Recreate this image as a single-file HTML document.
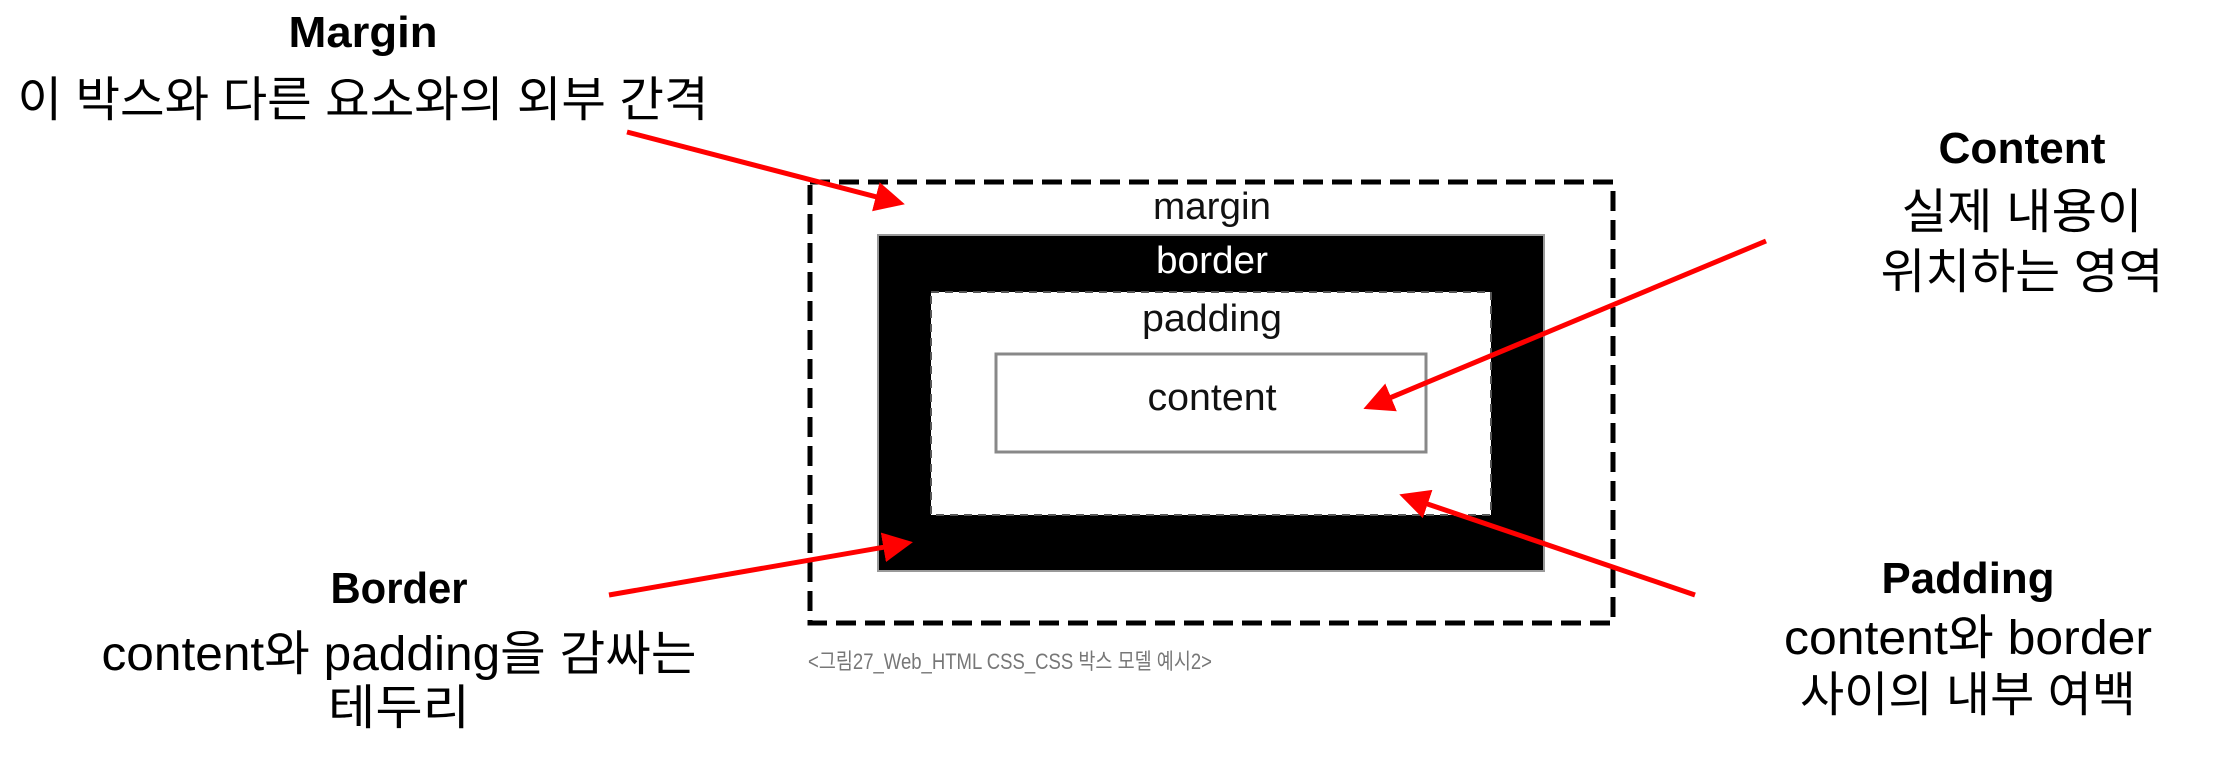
<!DOCTYPE html>
<html><head><meta charset="utf-8"><style>
html,body{margin:0;padding:0;background:#fff;}
body{width:2220px;height:762px;overflow:hidden;}
svg{display:block}
</style></head><body>
<svg width="2220" height="762" viewBox="0 0 2220 762" xmlns="http://www.w3.org/2000/svg">
<defs>
<marker id="ah" markerWidth="6" markerHeight="6" refX="5" refY="3" orient="auto" markerUnits="strokeWidth">
<path d="M0,0 L6,3 L0,6 z" fill="#f00"/>
</marker>
</defs>
<rect x="810" y="182" width="803" height="441" fill="none" stroke="#000" stroke-width="5" stroke-dasharray="20,9"/>
<rect x="878" y="235" width="666" height="336" fill="#000" stroke="#999" stroke-width="2"/>
<rect x="931" y="292" width="560" height="223" fill="#fff" stroke="#555" stroke-width="2" stroke-dasharray="8,6"/>
<rect x="996" y="354" width="430" height="98" fill="#fff" stroke="#888" stroke-width="3"/>
<g font-family="Liberation Sans, sans-serif" text-anchor="middle" font-size="38">
<text x="1212" y="219" fill="#111" textLength="118" lengthAdjust="spacingAndGlyphs">margin</text>
<text x="1212" y="273" fill="#fff" textLength="112" lengthAdjust="spacingAndGlyphs">border</text>
<text x="1212" y="331" fill="#111" textLength="140" lengthAdjust="spacingAndGlyphs">padding</text>
<text x="1212" y="410" fill="#111" textLength="129" lengthAdjust="spacingAndGlyphs">content</text>
</g>
<text x="808" y="669" font-size="22" fill="#777" font-family="Liberation Sans, Noto Sans CJK KR, sans-serif" textLength="404" lengthAdjust="spacingAndGlyphs">&lt;그림27_Web_HTML CSS_CSS 박스 모델 예시2&gt;</text>
<g font-family="Liberation Sans, Noto Sans CJK KR, sans-serif" text-anchor="middle" fill="#000">
<text x="363" y="47" font-size="44" font-weight="bold" textLength="149" lengthAdjust="spacingAndGlyphs">Margin</text>
<text x="363" y="116" font-size="48" textLength="691" lengthAdjust="spacingAndGlyphs">이 박스와 다른 요소와의 외부 간격</text>
<text x="2022" y="163" font-size="44" font-weight="bold" textLength="167" lengthAdjust="spacingAndGlyphs">Content</text>
<text x="2022" y="228" font-size="48" textLength="241" lengthAdjust="spacingAndGlyphs">실제 내용이</text>
<text x="2022" y="288" font-size="48" textLength="283" lengthAdjust="spacingAndGlyphs">위치하는 영역</text>
<text x="399" y="603" font-size="44" font-weight="bold" textLength="137" lengthAdjust="spacingAndGlyphs">Border</text>
<text x="399" y="670" font-size="48" textLength="595" lengthAdjust="spacingAndGlyphs">content와 padding을 감싸는</text>
<text x="399" y="724" font-size="48" textLength="142" lengthAdjust="spacingAndGlyphs">테두리</text>
<text x="1968" y="593" font-size="44" font-weight="bold" textLength="173" lengthAdjust="spacingAndGlyphs">Padding</text>
<text x="1968" y="654" font-size="48" textLength="368" lengthAdjust="spacingAndGlyphs">content와 border</text>
<text x="1968" y="711" font-size="48" textLength="336" lengthAdjust="spacingAndGlyphs">사이의 내부 여백</text>
</g>
<g stroke="#f00" stroke-width="5" fill="none">
<line x1="627" y1="132" x2="900" y2="203" marker-end="url(#ah)"/>
<line x1="1766" y1="241" x2="1368" y2="407" marker-end="url(#ah)"/>
<line x1="609" y1="595" x2="908" y2="543" marker-end="url(#ah)"/>
<line x1="1695" y1="595" x2="1404" y2="496" marker-end="url(#ah)"/>
</g>
</svg>
</body></html>
